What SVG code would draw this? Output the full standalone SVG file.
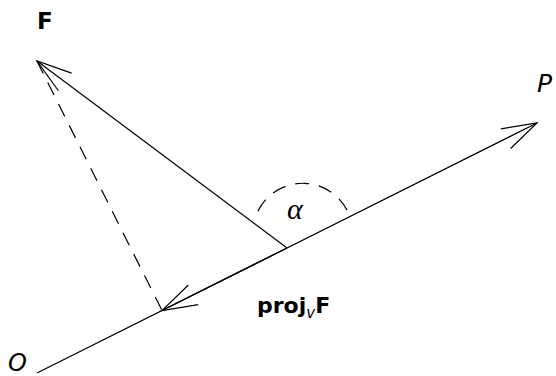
<svg xmlns="http://www.w3.org/2000/svg" width="556" height="376" viewBox="0 0 556 376">
<defs>
<style>
.ln{stroke:#000;stroke-width:1.2;fill:none}
.dash{stroke-dasharray:14 10}
.lbl{font-family:"DejaVu Sans",sans-serif;fill:#000}
.b{font-weight:bold}
.i{font-style:italic}
</style>
<marker id="arr" markerUnits="userSpaceOnUse" markerWidth="44" markerHeight="30" viewBox="-40 -15 44 30" refX="0" refY="0" orient="auto" overflow="visible">
<path d="M-35,-11 L0,0 L-35,11" fill="none" stroke="#000" stroke-width="1.2"/>
</marker>
</defs>
<rect width="556" height="376" fill="#fff"/>
<g id="connectors">
<line class="ln" x1="37" y1="373" x2="537" y2="123" marker-end="url(#arr)"/>
<line class="ln" x1="287" y1="248" x2="37" y2="61" marker-end="url(#arr)"/>
<line class="ln" x1="287" y1="248" x2="162" y2="310.5" marker-end="url(#arr)"/>
<line class="ln dash" x1="37" y1="61" x2="162" y2="310.5"/>
<path class="ln" d="M257,213 A50,50 0 0 1 350,217" stroke-dasharray="14 10" stroke-dashoffset="-2"/>
</g>
<g id="label-F"><text class="lbl b" x="37" y="29" font-size="23">F</text></g>
<g id="label-P"><text class="lbl i" x="537" y="92" font-size="25">P</text></g>
<g id="label-O"><text class="lbl i" x="8" y="371" font-size="24">O</text></g>
<g id="label-alpha"><text x="287" y="219" font-size="30" font-family="'Liberation Serif',serif" font-style="italic">α</text></g>
<g id="label-proj"><text class="lbl b" x="257" y="313" font-size="22">proj<tspan font-size="15" font-weight="normal" font-style="italic" dy="5">v</tspan><tspan dy="-5">F</tspan></text></g>
</svg>
